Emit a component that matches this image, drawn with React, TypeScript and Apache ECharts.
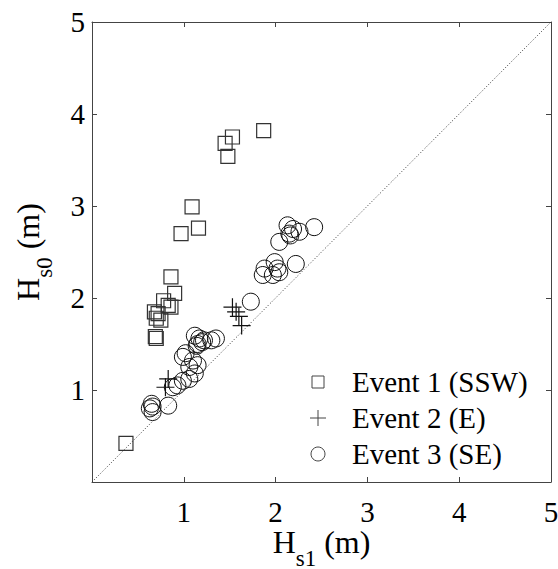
import React, { useEffect, useRef } from "react";
import * as echarts from "echarts";

const tickValues = [1, 2, 3, 4, 5];

const event1: [number, number][] = [
  [0.37, 0.42], [0.68, 1.85], [0.72, 1.83], [0.7, 1.78], [0.75, 1.76],
  [0.69, 1.58], [0.7, 1.56], [0.78, 1.97], [0.83, 1.92], [0.86, 1.9],
  [0.9, 2.05], [0.86, 2.23], [0.97, 2.7], [1.09, 2.99], [1.16, 2.76],
  [1.45, 3.68], [1.48, 3.54], [1.53, 3.75], [1.87, 3.82],
];

const event2: [number, number][] = [
  [0.8, 1.03], [0.83, 1.12], [1.53, 1.9], [1.57, 1.85], [1.6, 1.8], [1.63, 1.7],
];

const event3: [number, number][] = [
  [0.63, 0.8], [0.65, 0.85], [0.66, 0.82], [0.66, 0.76], [0.83, 0.83],
  [0.88, 1.03], [0.93, 1.05], [0.99, 1.1], [1.06, 1.12], [1.12, 1.18],
  [1.06, 1.25], [1.15, 1.27], [1.1, 1.32], [0.99, 1.36], [1.02, 1.4],
  [1.12, 1.59], [1.17, 1.56], [1.15, 1.5], [1.22, 1.54], [1.3, 1.54],
  [1.35, 1.56], [1.2, 1.52], [1.14, 1.48],
  [1.73, 1.96],
  [1.86, 2.25], [1.88, 2.32], [1.97, 2.25], [1.99, 2.39], [2.02, 2.32],
  [2.04, 2.28], [2.22, 2.37],
  [2.04, 2.61], [2.13, 2.79], [2.19, 2.75], [2.15, 2.7], [2.26, 2.72],
  [2.16, 2.68], [2.42, 2.77],
];

const diagonal: [number, number][] = [[0, 0], [5, 5]];

const seriesNames = ["Event 1 (SSW)", "Event 2 (E)", "Event 3 (SE)"];
const xTitle = "{h|H}{s|s1}{h| (m)}";
const yTitle = "{h|H}{s|s0}{h| (m)}";

const FONT = "Liberation Serif";
const AXIS_COLOR = "#444";
const PLUS = "path://M10,0 L10,20 M0,10 L20,10";

export default function App() {
  const ref = useRef<HTMLDivElement>(null);
  useEffect(() => {
    if (!ref.current) return;
    document.body.style.margin = "0";
    const chart = echarts.init(ref.current, undefined, { renderer: "svg" });
    const axisCommon = {
      type: "value" as const,
      min: 0,
      max: 5,
      interval: 1,
      splitLine: { show: false },
      axisLabel: { show: false },
      axisLine: { show: true, onZero: false, lineStyle: { color: AXIS_COLOR, width: 1 } },
      axisTick: { show: true, inside: true, length: 5, lineStyle: { color: AXIS_COLOR } },
    };
    chart.setOption({
      animation: false,
      backgroundColor: "#fff",
      grid: { left: 92, top: 22, width: 459, height: 460, containLabel: false },
      xAxis: [
        { ...axisCommon, position: "bottom" },
        { ...axisCommon, position: "top" },
      ],
      yAxis: [
        { ...axisCommon, position: "left" },
        { ...axisCommon, position: "right" },
      ],
      series: [
        {
          name: seriesNames[0],
          type: "scatter",
          data: event1,
          symbol: "rect",
          symbolSize: 14,
          itemStyle: { color: "none", borderColor: "#333", borderWidth: 1.2, opacity: 1 },
        },
        {
          name: seriesNames[1],
          type: "scatter",
          data: event2,
          symbol: PLUS,
          symbolSize: 18,
          itemStyle: { color: "none", borderColor: "#111", borderWidth: 1.2, opacity: 1 },
        },
        {
          name: seriesNames[2],
          type: "scatter",
          data: event3,
          symbol: "circle",
          symbolSize: 17,
          itemStyle: { color: "none", borderColor: "#111", borderWidth: 1, opacity: 1 },
        },
        {
          name: "1:1",
          type: "line",
          data: diagonal,
          symbol: "none",
          silent: true,
          lineStyle: { color: "#333", width: 1, type: [1, 2] },
        },
      ],
    });

    const gx = (v: number) => chart.convertToPixel({ xAxisIndex: 0 }, v) as number;
    const gy = (v: number) => chart.convertToPixel({ yAxisIndex: 0 }, v) as number;
    const x0 = gx(0);
    const y0 = gy(0);
    const rich = {
      h: { fontFamily: FONT, fontSize: 32, fill: "#000", color: "#000", padding: [0, 0, 12, 0], verticalAlign: "bottom" },
      s: { fontFamily: FONT, fontSize: 23, fill: "#000", color: "#000", verticalAlign: "bottom" },
    };
    const txt = (text: string, x: number, y: number, align: string, vAlign: string, extra: any = {}) => ({
      type: "text",
      x,
      y,
      silent: true,
      ...extra,
      style: {
        text,
        fontFamily: FONT,
        fontSize: 29,
        fill: "#000",
        align,
        verticalAlign: vAlign,
        textAlign: align,
        textVerticalAlign: vAlign,
        ...(extra.style || {}),
      },
    });

    const legendX = 318;
    const legendTextX = 352;
    const legendY = [382, 418, 454];
    const iconStyle = { fill: "none", stroke: "#444", lineWidth: 1 };

    const graphic: any[] = [
      ...tickValues.map((v) => txt(String(v), gx(v), y0 + 30, "center", "middle")),
      ...tickValues.map((v) => txt(String(v), x0 - 7, gy(v), "right", "middle")),
      txt(xTitle, (gx(0) + gx(5)) / 2, 526, "center", "top", { style: { rich } }),
      txt(yTitle, 34, (gy(0) + gy(5)) / 2, "center", "middle", { rotation: Math.PI / 2, style: { rich } }),
      { type: "rect", silent: true, shape: { x: legendX - 6, y: legendY[0] - 6, width: 12, height: 12 }, style: iconStyle },
      { type: "line", silent: true, shape: { x1: legendX - 8, y1: legendY[1], x2: legendX + 8, y2: legendY[1] }, style: iconStyle },
      { type: "line", silent: true, shape: { x1: legendX, y1: legendY[1] - 8, x2: legendX, y2: legendY[1] + 8 }, style: iconStyle },
      { type: "circle", silent: true, shape: { cx: legendX, cy: legendY[2], r: 7 }, style: iconStyle },
      ...seriesNames.map((n, i) => txt(n, legendTextX, legendY[i], "left", "middle")),
    ];
    chart.setOption({ graphic });
    return () => chart.dispose();
  }, []);
  return <div ref={ref} style={{ width: 558, height: 569 }} />;
}
